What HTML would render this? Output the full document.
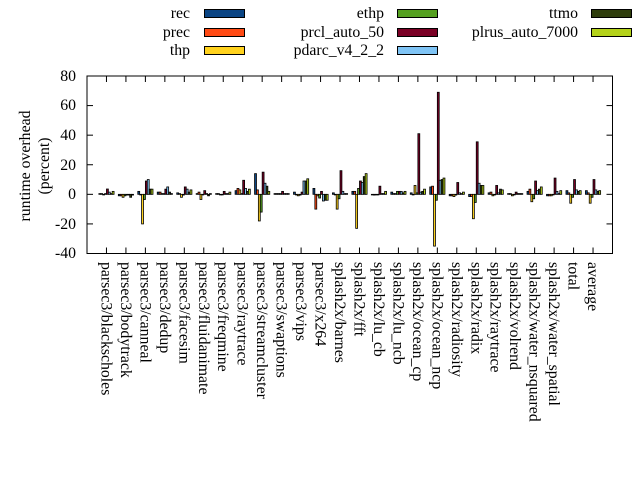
<!DOCTYPE html>
<html><head><meta charset="utf-8"><style>
html,body{margin:0;padding:0;background:#fff;}
svg{display:block;font-family:"Liberation Serif",serif;}
</style></head><body>
<svg id="s" width="640" height="480" viewBox="0 0 640 480" xmlns="http://www.w3.org/2000/svg">
<rect width="640" height="480" fill="#fff"/>
<g font-size="15.8" fill="#000">
<text x="190" y="18" text-anchor="end">rec</text>
<text x="190" y="37" text-anchor="end">prec</text>
<text x="190" y="55" text-anchor="end">thp</text>
<text x="384" y="18" text-anchor="end">ethp</text>
<text x="384" y="37" text-anchor="end">prcl_auto_50</text>
<text x="384" y="55" text-anchor="end">pdarc_v4_2_2</text>
<text x="578" y="18" text-anchor="end">ttmo</text>
<text x="578" y="37" text-anchor="end">plrus_auto_7000</text>
</g>
<g stroke="#000" stroke-width="1">
<rect x="204.5" y="9.5" width="40" height="8" fill="#0b4584"/>
<rect x="204.5" y="28.5" width="40" height="8" fill="#ff4a14"/>
<rect x="204.5" y="46.5" width="40" height="8" fill="#ffd21e"/>
<rect x="397.5" y="9.5" width="40" height="8" fill="#55a020"/>
<rect x="397.5" y="28.5" width="40" height="8" fill="#7a0025"/>
<rect x="397.5" y="46.5" width="40" height="8" fill="#7fc4f5"/>
<rect x="591.5" y="9.5" width="40" height="8" fill="#2e3d0c"/>
<rect x="591.5" y="28.5" width="40" height="8" fill="#b4d21a"/>
</g>
<g font-size="15.8" text-anchor="end">
<text x="76" y="81">80</text>
<text x="76" y="110">60</text>
<text x="76" y="140">40</text>
<text x="76" y="170">20</text>
<text x="76" y="199">0</text>
<text x="76" y="229">-20</text>
<text x="76" y="258">-40</text>
</g>
<text transform="translate(30,166) rotate(-90)" font-size="15.8" text-anchor="middle">runtime overhead</text>
<text transform="translate(49,166) rotate(-90)" font-size="15.8" text-anchor="middle">(percent)</text>
<g id="bars"></g>
<g id="frame" stroke="#000" fill="none"></g>
<g id="xl" font-size="15.8"></g>
</svg>
<script>
var L=["parsec3/blackscholes","parsec3/bodytrack","parsec3/canneal","parsec3/dedup","parsec3/facesim","parsec3/fluidanimate","parsec3/freqmine","parsec3/raytrace","parsec3/streamcluster","parsec3/swaptions","parsec3/vips","parsec3/x264","splash2x/barnes","splash2x/fft","splash2x/lu_cb","splash2x/lu_ncb","splash2x/ocean_cp","splash2x/ocean_ncp","splash2x/radiosity","splash2x/radix","splash2x/raytrace","splash2x/volrend","splash2x/water_nsquared","splash2x/water_spatial","total","average"];
var D=[[0.5,0.5,0,0.5,3.6,1.5,0.5,2],[-1,-1,-2,-1,-0.5,-0.5,-2,-0.5],[2,0,-20,-3.5,9,10,3.5,3.5],[1.5,1.5,0.5,0.5,3.5,5,1.5,0.5],[1,0.5,-2,-0.5,5,3.5,1.5,3],[0.5,1.5,-3.5,0,2.5,0.5,-1,0.5],[0.5,0.5,0,0,2,0.5,0.5,1.5],[2.5,4,3,0.5,9.5,4,2,3.5],[14,3,-18,-12,15,7.5,5.5,2],[0.5,0.5,0.5,0.5,2,0.5,0.5,0.5],[1.5,0,-1,-0.5,1.5,9,9,10.5],[4,-10,-1,-2.5,2,-4.5,-4,-4],[1,0,-10,-3,16,2,0.5,0.5],[2,2,-23,4,9,8,12,14],[0,-0.5,0,0,5.5,0.5,0.5,2],[1.5,0.5,0.5,2,2,2,1,2],[1,0,6,1,41,1.5,2,3.5],[5,5.5,-35,-4,69,9.5,10,11],[-1,-1,-1.5,-0.5,8,1,0.5,1.5],[-1.5,-1.5,-16.5,-5.5,35.5,7.5,6,6],[1,1.5,-1,0,6,1,3.5,3],[0.5,0.5,-1,0,1.5,0.5,0.5,0.5],[2,3.5,-5,-3,9,2.5,3.5,5],[-1,-1,-1,0,11,2,0.5,2.5],[2.5,1,-6,-2,10,3,2,2.5],[2.5,1,-6,-2,10,3,2,2.5]];
var C=["#0b4584","#ff4a14","#ffd21e","#55a020","#7a0025","#7fc4f5","#2e3d0c","#b4d21a"];
var NS="http://www.w3.org/2000/svg";
var x0=87,x1=612.5,yT=76,yB=253.5,sc=(yB-yT)/120,y0=yT+80*sc,step=(x1-x0)/27;
function el(p,t,a){var e=document.createElementNS(NS,t);for(var k in a)e.setAttribute(k,a[k]);p.appendChild(e);return e;}
var B=document.getElementById("bars"),F=document.getElementById("frame"),X=document.getElementById("xl");
var bw=1.9;
for(var i=0;i<26;i++){var cx=x0+(i+1)*step;
 for(var j=0;j<8;j++){var v=D[i][j];var bx=cx-7.6+j*bw;var h=Math.abs(v)*sc;var y=v>=0?y0-h:y0;
  el(B,"rect",{x:bx,y:y,width:bw,height:Math.max(h,0.6),fill:C[j],stroke:"#000","stroke-width":0.8});}
 el(F,"line",{x1:cx,y1:yB,x2:cx,y2:yB-6});el(F,"line",{x1:cx,y1:yT,x2:cx,y2:yT+6});
 var t=el(X,"text",{transform:"translate("+(cx-5)+",262) rotate(90)"});t.textContent=L[i];}
for(var k=0;k<7;k++){var y=yT+k*20*sc;el(F,"line",{x1:x0,y1:y,x2:x0+6,y2:y});el(F,"line",{x1:x1,y1:y,x2:x1-6,y2:y});}
el(F,"rect",{x:x0,y:yT,width:x1-x0,height:yB-yT,"stroke-width":1});
</script>
</body></html>
